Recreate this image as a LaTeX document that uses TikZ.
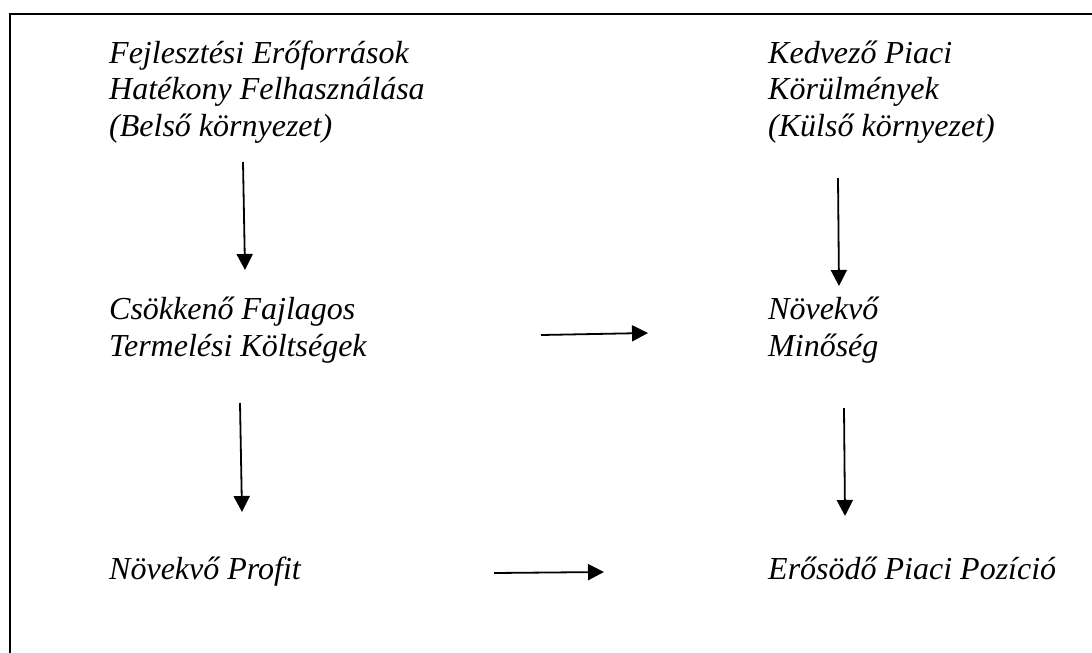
\documentclass[tikz,border=0pt]{standalone}
\usepackage{fontspec}
\setmainfont{Liberation Serif}
\usetikzlibrary{arrows.meta}
\tikzset{
  lbl/.style={anchor=base west, inner sep=0pt, align=left, font=\fontsize{32}{36.5}\selectfont\itshape},
  arr/.style={line width=1.8pt, -{Triangle[length=16pt,width=16pt]}},
  frame/.style={line width=2.6pt}
}
\begin{document}
\begin{tikzpicture}[x=1pt,y=-1pt]
\useasboundingbox (0,0) rectangle (1092,653);
\draw[frame] (10,653) -- (10,14) -- (1092,14);
\node[lbl] (fej) at (109,136) {Fejlesztési Erőforrások\\Hatékony Felhasználása\\(Belső környezet)};
\node[lbl] (ked) at (768,136) {Kedvező Piaci\\Körülmények\\(Külső környezet)};
\node[lbl] (cso) at (109,356) {Csökkenő Fajlagos\\Termelési Költségek};
\node[lbl] (nom) at (768,356) {Növekvő\\Minőség};
\node[lbl] (npr) at (109,579) {Növekvő Profit};
\node[lbl] (epp) at (768,579) {Erősödő Piaci Pozíció};
\coordinate (a1s) at (243,162); \coordinate (a1e) at (245,270);
\coordinate (a2s) at (838,178); \coordinate (a2e) at (839,286);
\coordinate (a3s) at (541,335); \coordinate (a3e) at (648,333);
\coordinate (a4s) at (240,403); \coordinate (a4e) at (242,512);
\coordinate (a5s) at (844,408); \coordinate (a5e) at (845,516);
\coordinate (a6s) at (494,573); \coordinate (a6e) at (604,572);
\draw[arr] (a1s) -- (a1e);
\draw[arr] (a2s) -- (a2e);
\draw[arr] (a3s) -- (a3e);
\draw[arr] (a4s) -- (a4e);
\draw[arr] (a5s) -- (a5e);
\draw[arr] (a6s) -- (a6e);
\end{tikzpicture}
\end{document}
